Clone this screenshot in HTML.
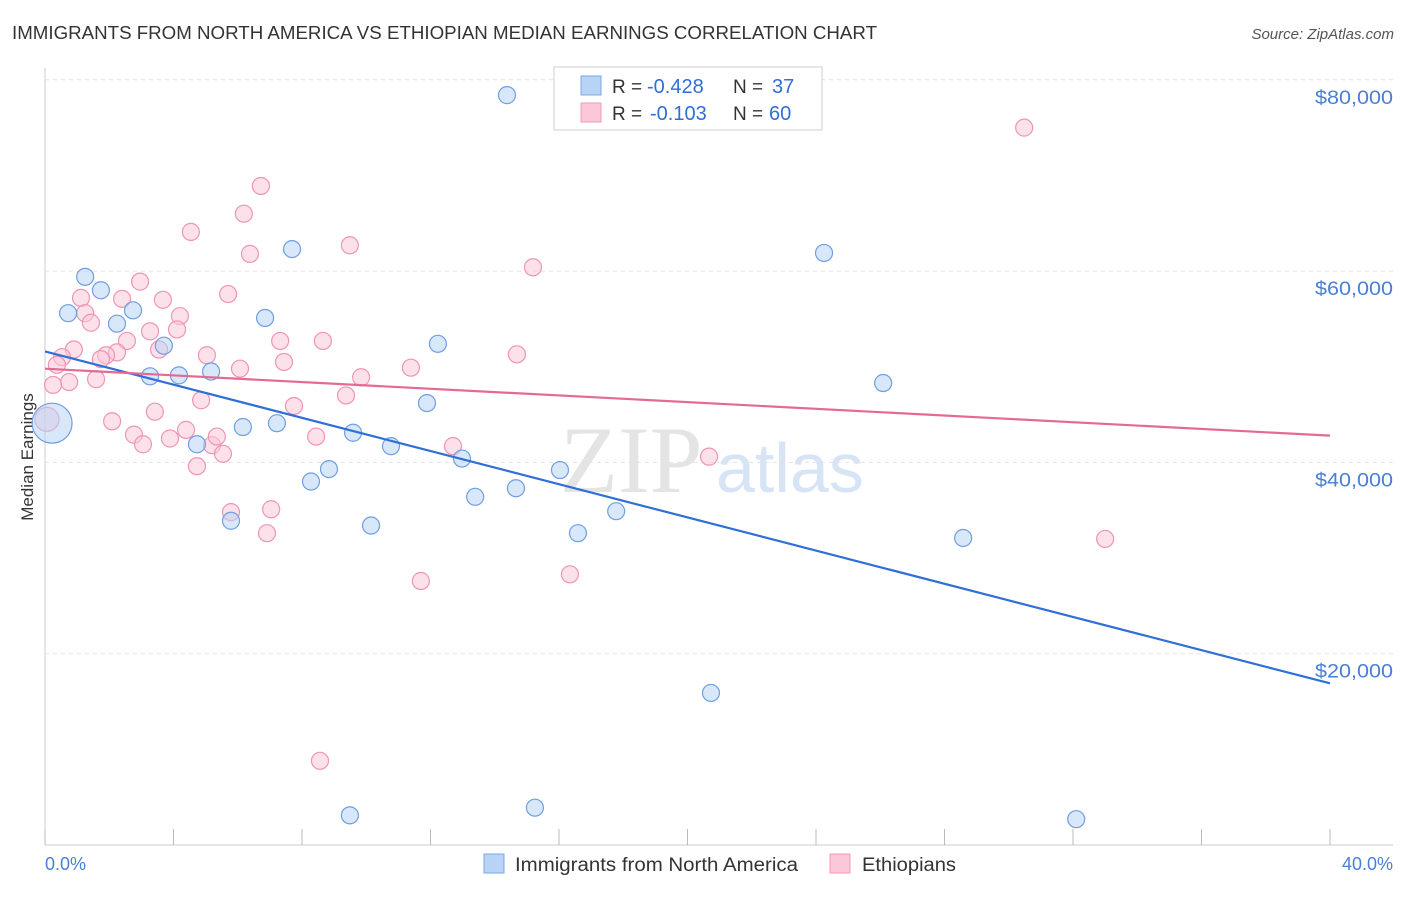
<!DOCTYPE html>
<html><head><meta charset="utf-8"><style>
body{margin:0;background:#fff;font-family:"Liberation Sans",sans-serif}
</style></head><body>
<svg id="c" width="1406" height="892" xmlns="http://www.w3.org/2000/svg">
<text x="12" y="39" font-size="18" fill="#333" textLength="865" lengthAdjust="spacingAndGlyphs">IMMIGRANTS FROM NORTH AMERICA VS ETHIOPIAN MEDIAN EARNINGS CORRELATION CHART</text>
<text x="1394" y="39" font-size="15" fill="#555" font-style="italic" text-anchor="end">Source: ZipAtlas.com</text>
<text x="560" y="492" font-size="95" fill="#e4e4e4" font-family="Liberation Serif">ZIP</text>
<text x="716" y="492" font-size="70" fill="#d6e4f5">atlas</text>
<text transform="translate(33,457) rotate(-90)" font-size="17" fill="#333" text-anchor="middle">Median Earnings</text>
<g id="grid"></g><g id="ticks"></g><g id="pts"></g><g id="lines"></g>
<g>
<rect x="554" y="67" width="268" height="63" fill="#fff" stroke="#ccc"/>
<rect x="581" y="76" width="20" height="19" fill="#b8d3f5" stroke="#7aa8e6"/>
<rect x="581" y="103" width="20" height="19" fill="#fcc8d8" stroke="#f09ab4"/>
<text x="612" y="93" font-size="19" fill="#333">R =</text>
<text x="647" y="93" font-size="20" fill="#2f6fd6">-0.428</text>
<text x="733" y="93" font-size="19" fill="#333">N =</text>
<text x="772" y="93" font-size="20" fill="#2f6fd6">37</text>
<text x="612" y="120" font-size="19" fill="#333">R =</text>
<text x="650" y="120" font-size="20" fill="#2f6fd6">-0.103</text>
<text x="733" y="120" font-size="19" fill="#333">N =</text>
<text x="769" y="120" font-size="20" fill="#2f6fd6">60</text>
</g>
<g>
<rect x="484" y="854" width="20" height="19" fill="#b8d3f5" stroke="#7aa8e6"/>
<text x="515" y="871" font-size="19" fill="#333" textLength="283" lengthAdjust="spacingAndGlyphs">Immigrants from North America</text>
<rect x="830" y="854" width="20" height="19" fill="#fcc8d8" stroke="#f09ab4"/>
<text x="862" y="871" font-size="19" fill="#333" textLength="94" lengthAdjust="spacingAndGlyphs">Ethiopians</text>
</g>
<text x="45" y="870" font-size="18" fill="#4a7fd6">0.0%</text>
<text x="1393" y="870" font-size="18" fill="#4a7fd6" text-anchor="end">40.0%</text>
</svg>
<script>
const blueX=[14.38,7.69,24.25,1.25,1.74,0.72,2.74,2.24,6.85,3.70,12.23,3.27,4.17,5.17,26.09,11.89,0.22,6.16,7.22,9.59,10.77,4.73,12.98,8.84,8.28,16.03,14.66,13.39,10.15,5.79,17.78,16.59,28.58,20.73,9.49,15.25,32.10];
const blueY=[78.4,62.3,61.9,59.4,58.0,55.6,55.9,54.5,55.1,52.2,52.4,49.0,49.1,49.5,48.3,46.2,44.1,43.7,44.1,43.1,41.7,41.9,40.4,39.3,38.0,39.2,37.3,36.4,33.4,33.9,34.9,32.6,32.1,15.9,3.1,3.9,2.7];
const pinkX=[30.48,6.72,6.19,4.54,9.49,6.38,15.19,2.96,5.70,1.12,2.40,3.67,1.25,4.20,1.43,3.27,4.11,2.55,7.32,8.65,3.55,0.90,2.24,5.04,1.90,14.69,0.53,1.74,7.44,0.37,6.07,11.39,9.84,1.59,0.75,0.25,9.37,4.86,7.75,3.42,2.09,4.39,8.44,2.77,3.89,3.05,5.20,12.70,5.35,5.54,20.67,4.73,5.79,7.04,6.91,33.00,16.34,11.70,8.56,0.06];
const pinkY=[75.0,68.9,66.0,64.1,62.7,61.8,60.4,58.9,57.6,57.2,57.1,57.0,55.6,55.3,54.6,53.7,53.9,52.7,52.7,52.7,51.8,51.8,51.5,51.2,51.2,51.3,51.0,50.8,50.5,50.2,49.8,49.9,48.9,48.7,48.4,48.1,47.0,46.5,45.9,45.3,44.3,43.4,42.7,42.9,42.5,41.9,41.8,41.7,42.7,40.9,40.6,39.6,34.8,35.1,32.6,32.0,28.3,27.6,8.8,44.5];
const blueTrend=[[0,51.6],[40,16.9]];
const pinkTrend=[[0,49.8],[40,42.8]];
const yTicks=[20,40,60,80];
const xTicks=[0,4,8,12,16,20,24,28,32,36,40];
const X=v=>45+v/40*1285, Y=v=>845-v/20*191.3;
const NS="http://www.w3.org/2000/svg";
function mk(p,t,a){const e=document.createElementNS(NS,t);for(const k in a)e.setAttribute(k,a[k]);document.getElementById(p).appendChild(e);return e;}
mk('grid','line',{x1:45,y1:68,x2:45,y2:845,stroke:'#ccc'});
mk('grid','line',{x1:45,y1:845,x2:1393,y2:845,stroke:'#ccc'});
yTicks.forEach(v=>{const l=mk('grid','line',{x1:45,y1:Y(v),x2:1393,y2:Y(v),stroke:'#e2e2e2','stroke-dasharray':'4,4'});


const t=mk('grid','text',{x:1393,y:Y(v)+24,'font-size':19.5,fill:'#4a7fd6','text-anchor':'end',textLength:78,lengthAdjust:'spacingAndGlyphs'});t.textContent='$'+v+',000';

});
xTicks.forEach(v=>{const l=mk('ticks','line',{x1:X(v),y1:829,x2:X(v),y2:845,stroke:'#bbb'});

});
function pts(xs,ys,fill,stroke,big){xs.forEach((x,i)=>{const r=(i===big)?(fill==='#b8d3f5'?20:12):8.5;
const c=mk('pts','circle',{cx:X(x),cy:Y(ys[i]),r:r,fill:fill,'fill-opacity':0.55,stroke:stroke,'stroke-width':1.2});

});}
pts(pinkX,pinkY,'#fcc8d8','#ee95b2',59);
pts(blueX,blueY,'#b8d3f5','#6f9fe0',16);
function tl(d,col,name){const l=mk('lines','line',{x1:X(d[0][0]),y1:Y(d[0][1]),x2:X(d[1][0]),y2:Y(d[1][1]),stroke:col,'stroke-width':2.2});

}
tl(blueTrend,'#2f6fd6','north-america-trendline');
tl(pinkTrend,'#e56a93','ethiopian-trendline');
</script>
</body></html>
